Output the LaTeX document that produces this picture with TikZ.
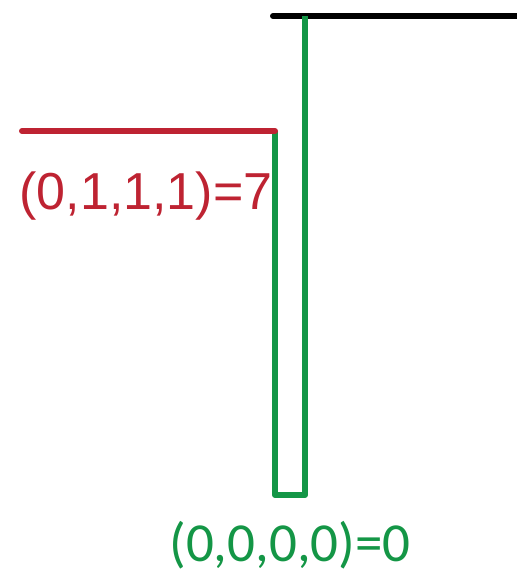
\documentclass[tikz,border=0pt]{standalone}
\usepackage{fontspec}
\setmainfont{Liberation Sans}
\newfontfamily\calib{Carlito}
\definecolor{gr}{RGB}{20,150,70}
\definecolor{rd}{RGB}{190,35,50}
\begin{document}
\begin{tikzpicture}[x=1pt,y=-1pt,
  seg/.style={line width=6pt},
  lbl/.style={inner sep=0pt, anchor=base}]
\useasboundingbox (0,0) rectangle (517,576);
\coordinate (b1) at (273,16);
\coordinate (b2) at (517,16);
\coordinate (g1) at (305,16);
\coordinate (g2) at (305,495);
\coordinate (g3) at (275,495);
\coordinate (g4) at (275,131);
\coordinate (r1) at (22,131);
\draw[seg,black,line cap=round] (b1) -- (b2);
\draw[seg,gr,line join=round] (g1) -- (g2) -- (g3) -- (g4);
\draw[seg,rd,line cap=round] (g4) -- (r1);
\node[lbl,text=rd,font=\fontsize{52}{52}\selectfont] (t1) at (146,209) {(0,1,1,1)=7};
\node[lbl,text=gr,font=\calib\fontsize{55}{55}\selectfont] (t2) at (290,561) {(0,0,0,0)=0};
\end{tikzpicture}
\end{document}
